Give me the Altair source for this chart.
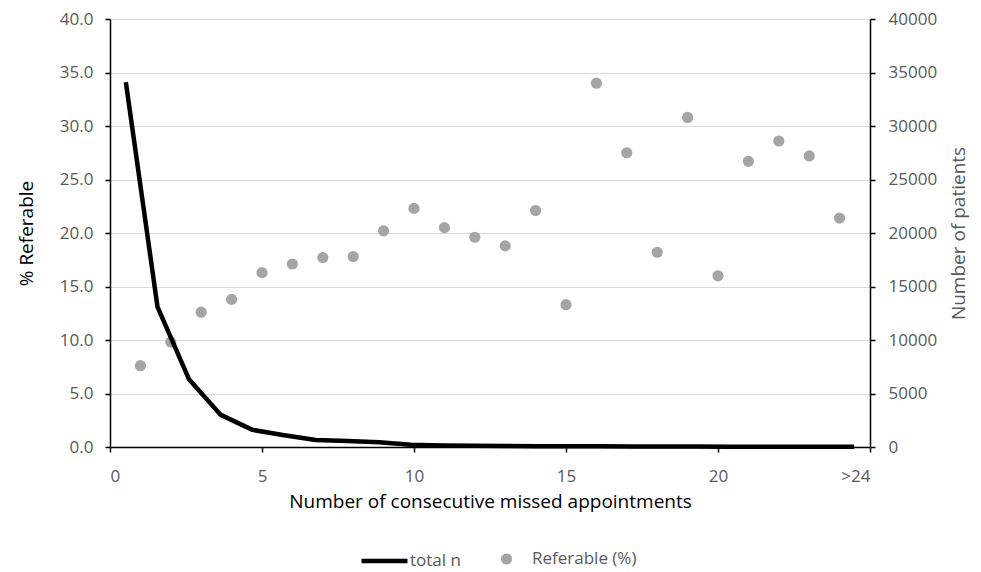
import altair as alt
import pandas as pd

# Data
missed = list(range(1, 25))
referable_pct = [7.6, 9.8, 12.6, 13.8, 16.3, 17.1, 17.7, 17.8, 20.2, 22.3, 20.5, 19.6,
                 18.8, 22.1, 13.3, 34.0, 27.5, 18.2, 30.8, 16.0, 26.7, 28.6, 27.2, 21.4]
total_n = [34100, 13100, 6300, 3000, 1600, 1100, 650, 550, 450, 200, 150, 120,
           100, 80, 70, 60, 50, 40, 40, 30, 30, 20, 20, 20]
x_ticks = [0, 5, 10, 15, 20, 25]

df_pts = pd.DataFrame({"missed": missed, "pct": referable_pct, "series": "Referable (%)"})
df_line = pd.DataFrame({"cat": [str(m) for m in missed], "n": total_n, "series": "total n"})

FONT = "Open Sans"
LABEL = "#595959"

points = alt.Chart(df_pts).mark_circle(size=125, opacity=1).encode(
    x=alt.X("missed:Q",
            scale=alt.Scale(domain=[0, 25], nice=False, zero=True),
            axis=alt.Axis(values=x_ticks, grid=False,
                          labelExpr="datum.value == 25 ? '>24' : datum.label",
                          labelPadding=16,
                          title="Number of consecutive missed appointments",
                          titleColor="black", titlePadding=8)),
    y=alt.Y("pct:Q",
            scale=alt.Scale(domain=[0, 40], nice=False),
            axis=alt.Axis(values=list(range(0, 41, 5)), format=".1f", grid=True,
                          gridColor="#d9d9d9", labelPadding=12, title="% Referable",
                          titleColor="black", titlePadding=23)),
    fill=alt.Fill("series:N",
                  scale=alt.Scale(domain=["Referable (%)"], range=["#a5a5a5"]),
                  legend=alt.Legend(title=None, orient="none", legendX=388, legendY=531.5,
                                    symbolType="circle", symbolSize=125, labelOffset=17,
                                    padding=0)),
)

line = alt.Chart(df_line).mark_line(strokeWidth=4.5, strokeJoin="round").encode(
    x=alt.X("cat:O", sort=[str(m) for m in missed],
            scale=alt.Scale(type="point", padding=0.5), axis=None),
    y=alt.Y("n:Q",
            scale=alt.Scale(domain=[0, 40000], nice=False),
            axis=alt.Axis(values=list(range(0, 40001, 5000)), format="d", grid=False,
                          orient="right", labelPadding=13, title="Number of patients",
                          titleAngle=270, titleColor=LABEL, titlePadding=32)),
    stroke=alt.Stroke("series:N",
                      scale=alt.Scale(domain=["total n"], range=["black"]),
                      legend=alt.Legend(title=None, orient="none", legendX=249, legendY=516.5,
                                        symbolType="stroke", symbolSize=2116,
                                        symbolStrokeWidth=4.5, labelOffset=0, padding=0)),
)

chart = alt.layer(points, line).resolve_scale(
    x="independent", y="independent", fill="independent", stroke="independent"
).properties(
    width=760, height=428,
    autosize=alt.AutoSizeParams(type="none"),
    padding={"left": 102, "top": 11, "right": 103, "bottom": 125},
).configure_view(stroke=None).configure_axis(
    domainColor="black", domainWidth=1.5, tickColor="black", tickSize=5, tickWidth=1.5,
    labelColor=LABEL, labelFont=FONT, labelFontSize=17,
    titleFont=FONT, titleFontSize=19, titleFontWeight="normal",
).configure_legend(
    labelFont=FONT, labelFontSize=17, labelColor=LABEL
)

chart.save("out.html", embed_options={"renderer": "svg", "actions": False})
